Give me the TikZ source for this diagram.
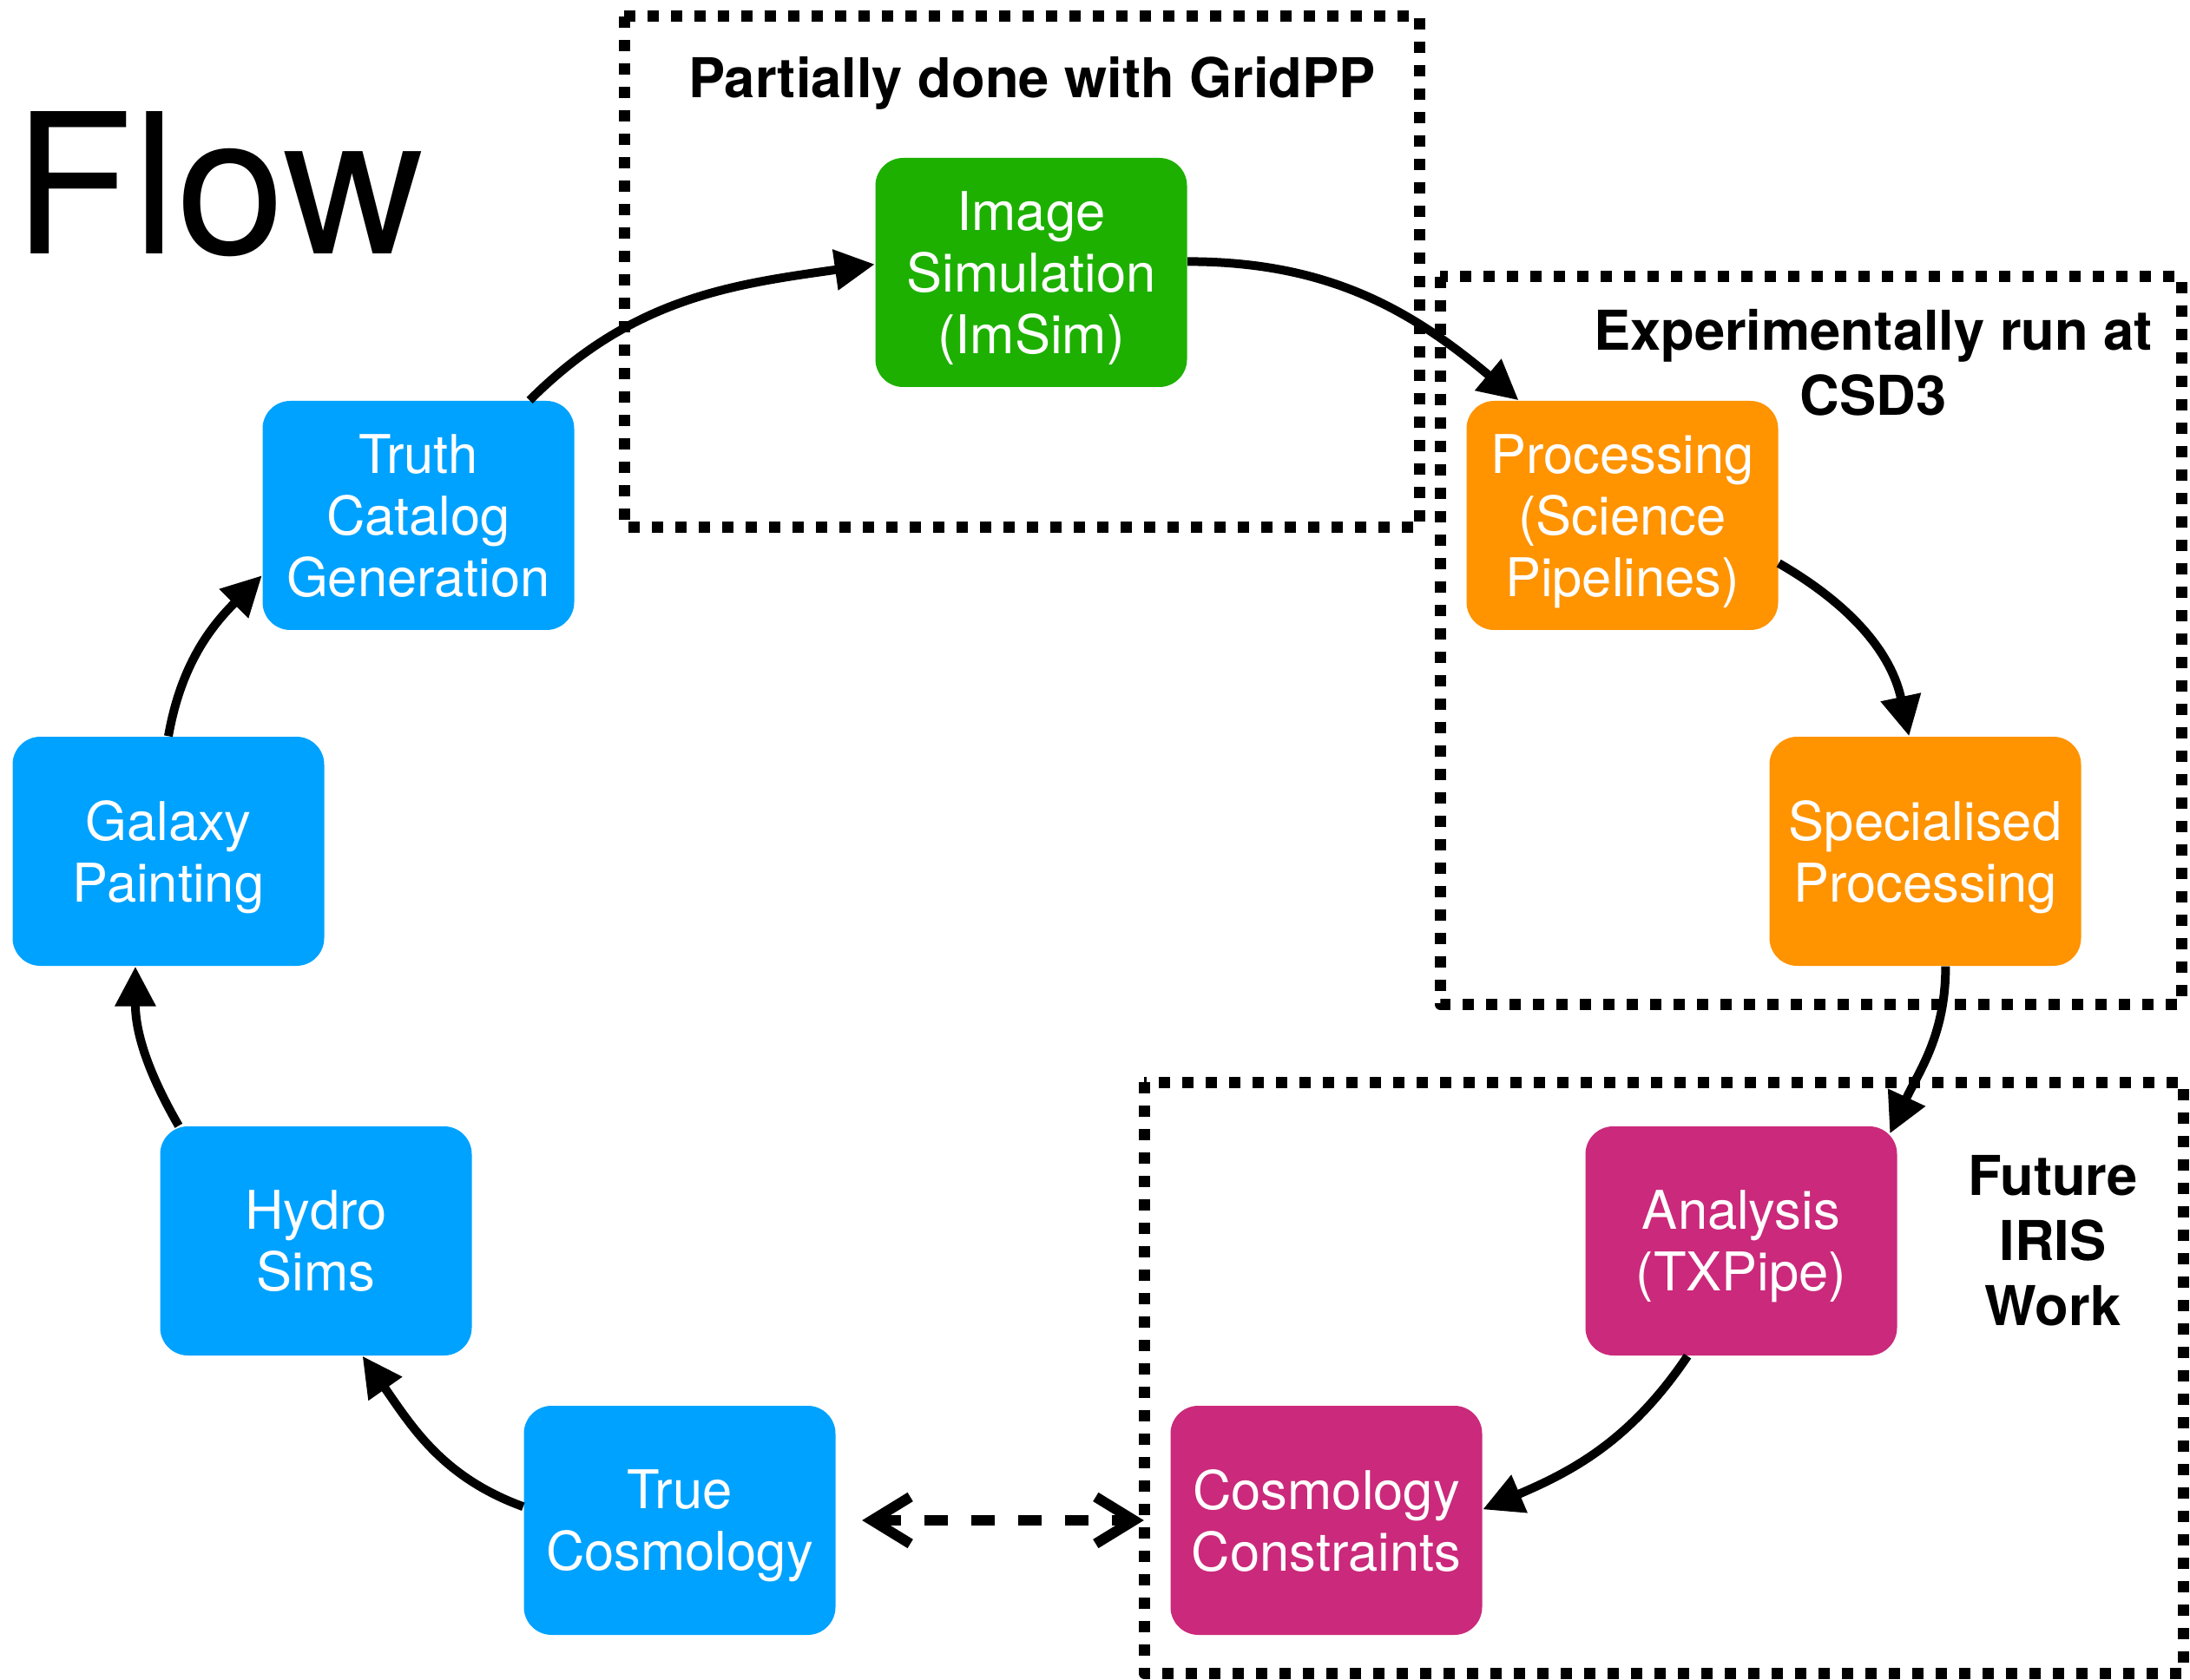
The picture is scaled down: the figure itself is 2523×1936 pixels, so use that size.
\documentclass[tikz,border=0pt]{standalone}
\usepackage{fontspec}
\setmainfont{TeX Gyre Heros}
\usetikzlibrary{arrows.meta,calc}

\begin{document}
\begin{tikzpicture}[x=0.1mm, y=0.1mm, line join=round,
    stage/.style={rounded corners=3.2mm, minimum width=35.9mm, minimum height=26.4mm,
        inner sep=0pt, text=white, align=center, text depth=-0.5mm,
        font=\fontsize{17.5}{20.2}\selectfont},
    flowarrow/.style={line width=1mm, -{Triangle[length=4.6mm,width=4.5mm]}},
    linkarrow/.style={line width=1.2mm, dash pattern=on 2.7mm off 2.7mm,
        {Straight Barb[length=4.4mm,width=5.4mm]}-{Straight Barb[length=4.4mm,width=5.4mm]},
        shorten <=3mm, shorten >=3mm},
    region/.style={line width=1.3mm, dash pattern=on 1.3mm off 1.4mm},
    heading/.style={inner sep=0pt, align=center, font=\bfseries\fontsize{18}{21.4}\selectfont}]
        \definecolor{simgreen}{RGB}{29,176,0}
        \definecolor{inputblue}{RGB}{0,162,255}
        \definecolor{pipeorange}{RGB}{255,147,0}
        \definecolor{scimagenta}{RGB}{203,41,123}

        \useasboundingbox (0,0) rectangle (2523,-1936);

        \draw[region] (719,-19) rectangle (1635,-608);
        \draw[region] (1659,-319) rectangle (2513,-1157);
        \draw[region] (1318,-1247) rectangle (2515,-1928);

        \node[anchor=base, inner sep=0pt, font=\fontsize{64}{64}\selectfont] (flow) at (252,-293) {Flow};
        \node[heading, anchor=base] (gridpp) at (1189,-113) {Partially done with GridPP};
        \node[heading] (csd) at (2158,-418) {Experimentally run at\\CSD3};
        \node[heading] (iris) at (2365,-1430) {Future\\IRIS\\Work};

        \node[stage, fill=simgreen] (imsim) at (1188,-314) {Image\\Simulation\\(ImSim)};
        \node[stage, fill=inputblue] (truth) at (482,-594) {Truth\\Catalog\\Generation};
        \node[stage, fill=inputblue] (galaxy) at (194,-981) {Galaxy\\Painting};
        \node[stage, fill=inputblue] (hydro) at (364,-1430) {Hydro\\Sims};
        \node[stage, fill=inputblue] (truecosmo) at (783,-1752) {True\\Cosmology};
        \node[stage, fill=pipeorange] (procsci) at (1869,-594) {Processing\\(Science\\Pipelines)};
        \node[stage, fill=pipeorange] (specproc) at (2218,-981) {Specialised\\Processing};
        \node[stage, fill=scimagenta] (analysis) at (2006,-1430) {Analysis\\(TXPipe)};
        \node[stage, fill=scimagenta] (constraints) at (1528,-1752) {Cosmology\\Constraints};

        \draw[flowarrow] (truth.46) to[out=45, in=188] (imsim.177);
        \draw[flowarrow] (imsim.4) to[out=0, in=140] (procsci.132);
        \draw[flowarrow] (procsci.-17) to[out=-30, in=102] (specproc.98);
        \draw[flowarrow] (specproc.-80) to[out=-90, in=65] ($(analysis.north east)+(-9,-9)$);
        \draw[flowarrow] (analysis.-115) to[out=-124, in=23] (constraints.4);
        \draw[flowarrow] (truecosmo.175) to[out=160, in=-55] (hydro.-68);
        \draw[flowarrow] (hydro.140) to[out=120, in=-90] (galaxy.-106);
        \draw[flowarrow] (galaxy.north) to[out=80, in=225] (truth.201);
        \draw[linkarrow] (truecosmo) -- (constraints);
    \end{tikzpicture}
\end{document}
